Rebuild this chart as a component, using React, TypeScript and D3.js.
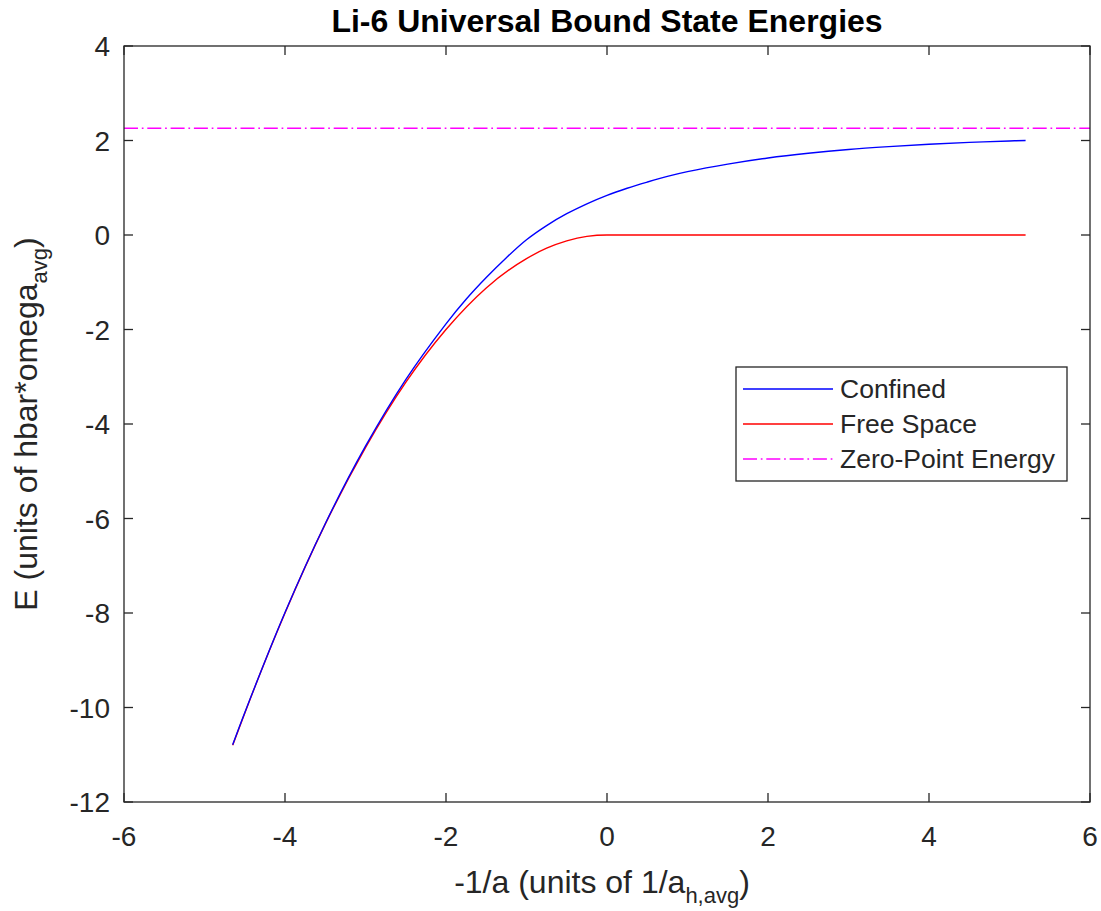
import React from "react";
import * as d3 from "d3";

const xTicks = [-6, -4, -2, 0, 2, 4, 6];
const yTicks = [4, 2, 0, -2, -4, -6, -8, -10, -12];

const xConfined = [-4.65, -4.5, -4.0, -3.5, -3.0, -2.5, -2.0, -1.75, -1.5, -1.25, -1.0, -0.75, -0.5, -0.25, 0, 0.25, 0.5, 0.75, 1.0, 1.5, 2.0, 2.5, 3.0, 3.5, 4.0, 4.5, 5.0, 5.2];
const eConfined = [-10.79, -10.11, -7.99, -6.11, -4.47, -3.06, -1.88, -1.36, -0.9, -0.48, -0.1, 0.2, 0.45, 0.66, 0.84, 0.99, 1.12, 1.24, 1.34, 1.5, 1.63, 1.73, 1.81, 1.87, 1.92, 1.96, 1.99, 2.0];

const xFree = [-4.65, -4.5, -4.0, -3.5, -3.0, -2.5, -2.0, -1.5, -1.0, -0.75, -0.5, -0.25, 0, 5.2];
const eFree = [-10.8, -10.12, -8.0, -6.12, -4.5, -3.12, -2.0, -1.12, -0.5, -0.28, -0.125, -0.03, 0, 0];

const zeroPointEnergy = 2.26;
const legendLabels = ["Confined", "Free Space", "Zero-Point Energy"];

const W = 1101, H = 911;
const L = 124, R = 1090, T = 46, B = 802;
const AX = "#262626";
const FONT = "'Liberation Sans', Arial, Helvetica, sans-serif";

export default function App() {
  const x = d3.scaleLinear().domain([-6, 6]).range([L, R]);
  const y = d3.scaleLinear().domain([-12, 4]).range([B, T]);
  const lineSmooth = d3
    .line<[number, number]>()
    .x((d) => x(d[0]))
    .y((d) => y(d[1]))
    .curve(d3.curveCatmullRom.alpha(0.5));
  const lineMono = d3
    .line<[number, number]>()
    .x((d) => x(d[0]))
    .y((d) => y(d[1]))
    .curve(d3.curveMonotoneX);
  const confined = lineSmooth(xConfined.map((v, i) => [v, eConfined[i]] as [number, number])) || "";
  const free = lineMono(xFree.map((v, i) => [v, eFree[i]] as [number, number])) || "";
  const tl = 9;
  const dash = "14 3.8 1.7 3.8";

  const legX = 736, legY = 367, legW = 331, legH = 114;
  const rowY = [389, 424, 459];
  const colors = ["#0000ff", "#ff0000", "#ff00ff"];

  return (
    <svg
      width={W}
      height={H}
      style={{ position: "absolute", left: 0, top: 0, background: "#fff" }}
      fontFamily={FONT}
    >
      <rect x={0} y={0} width={W} height={H} fill="#fff" />
      {/* data */}
      <line
        x1={x(-6)}
        x2={x(6)}
        y1={y(zeroPointEnergy)}
        y2={y(zeroPointEnergy)}
        stroke="#ff00ff"
        strokeWidth={1.4}
        strokeDasharray={dash}
      />
      <path d={free} fill="none" stroke="#ff0000" strokeWidth={1.4} />
      <path d={confined} fill="none" stroke="#0000ff" strokeWidth={1.4} />

      {/* axes box */}
      <rect x={L} y={T} width={R - L} height={B - T} fill="none" stroke={AX} strokeWidth={1.3} />
      {xTicks.map((t) => (
        <g key={"x" + t}>
          <line x1={x(t)} x2={x(t)} y1={B} y2={B - tl} stroke={AX} strokeWidth={1.3} />
          <line x1={x(t)} x2={x(t)} y1={T} y2={T + tl} stroke={AX} strokeWidth={1.3} />
          <text x={x(t)} y={846} textAnchor="middle" fontSize={28} fill={AX}>
            {t}
          </text>
        </g>
      ))}
      {yTicks.map((t) => (
        <g key={"y" + t}>
          <line x1={L} x2={L + tl} y1={y(t)} y2={y(t)} stroke={AX} strokeWidth={1.3} />
          <line x1={R} x2={R - tl} y1={y(t)} y2={y(t)} stroke={AX} strokeWidth={1.3} />
          <text x={110} y={y(t) + 10} textAnchor="end" fontSize={28} fill={AX}>
            {t}
          </text>
        </g>
      ))}

      {/* title */}
      <text x={(L + R) / 2} y={32} textAnchor="middle" fontSize={32} fontWeight="bold" fill="#000">
        Li-6 Universal Bound State Energies
      </text>

      {/* x label */}
      <text x={602} y={893} textAnchor="middle" fontSize={32} fill={AX}>
        -1/a (units of 1/a
        <tspan fontSize={22} dy={10}>h,avg</tspan>
        <tspan dy={-10}>)</tspan>
      </text>

      {/* y label */}
      <text
        transform={`translate(37, ${(T + B) / 2}) rotate(-90)`}
        textAnchor="middle"
        fontSize={32}
        fill={AX}
      >
        E (units of hbar*omega
        <tspan fontSize={22} dy={10}>avg</tspan>
        <tspan dy={-10}>)</tspan>
      </text>

      {/* legend */}
      <rect x={legX} y={legY} width={legW} height={legH} fill="#fff" stroke={AX} strokeWidth={1.3} />
      {legendLabels.map((lab, i) => (
        <g key={lab}>
          <line
            x1={743}
            x2={833}
            y1={rowY[i]}
            y2={rowY[i]}
            stroke={colors[i]}
            strokeWidth={1.4}
            strokeDasharray={i === 2 ? dash : undefined}
          />
          <text x={840} y={rowY[i] + 9} fontSize={26.5} fill={AX}>
            {lab}
          </text>
        </g>
      ))}
    </svg>
  );
}
